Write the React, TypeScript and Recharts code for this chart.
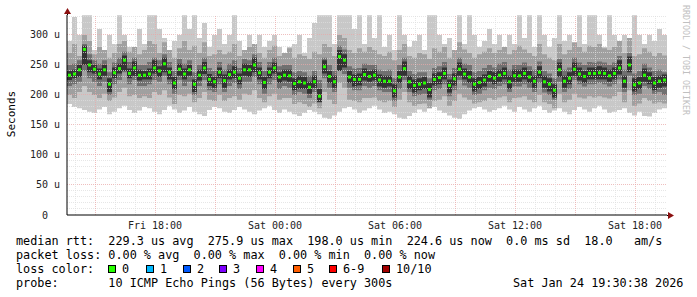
import React from "react";
import { ComposedChart, Area, Line, XAxis, YAxis, ReferenceLine } from "recharts";

// time axis in hours counted from Fri 00:00, one column every 15 minutes
const START_HOUR = 13.6;
const END_HOUR = 43.6;
const STEP_HOURS = 0.25;

// median rtt per column (microseconds)
const median = [
  233, 235, 242, 276, 250, 243, 235, 242, 218, 237, 244, 258, 236, 245, 233, 233, 235, 245, 240, 252, 238, 220, 243, 235, 242, 218, 233, 245, 226, 222,
  238, 224, 234, 238, 228, 242, 242, 250, 237, 221, 238, 245, 230, 233, 232, 219, 222, 220, 213, 222, 198, 247, 231, 222, 264, 258, 230, 226, 226, 234,
  231, 233, 225, 223, 223, 207, 230, 244, 222, 216, 218, 220, 209, 226, 229, 236, 216, 227, 243, 235, 230, 218, 221, 225, 231, 228, 233, 236, 222, 232,
  232, 236, 230, 223, 238, 222, 218, 208, 242, 223, 228, 243, 235, 231, 236, 236, 237, 236, 232, 236, 245, 223, 250, 217, 220, 233, 228, 220, 223, 225,
];

// outer smoke (lowest / highest ping)
const lightLo = [
  185, 180, 178, 175, 172, 170, 176, 180, 168, 172, 178, 182, 175, 170, 174, 180, 178, 172, 168, 175, 182, 176, 170, 174, 180, 172, 168, 165, 175, 180,
  178, 172, 170, 175, 180, 176, 172, 168, 174, 178, 182, 175, 170, 176, 172, 168, 165, 170, 175, 172, 168, 162, 160, 166, 172, 178, 180, 176, 170, 174,
  178, 182, 176, 170, 172, 168, 162, 160, 165, 170, 176, 172, 178, 180, 174, 170, 166, 162, 160, 168, 174, 178, 180, 176, 172, 175, 178, 182, 176, 172,
  180, 176, 172, 178, 182, 175, 170, 174, 178, 172, 168, 175, 180, 176, 172, 178, 182, 176, 170, 172, 175, 178, 170, 166, 172, 165, 164, 170, 176, 178,
];
const lightHi = [
  290, 330, 300, 333, 333, 275, 310, 270, 300, 285, 333, 300, 280, 270, 310, 285, 333, 333, 310, 295, 270, 290, 300, 333, 310, 333, 295, 320, 280, 300,
  310, 285, 300, 333, 290, 275, 300, 285, 300, 280, 290, 300, 280, 270, 280, 285, 300, 270, 295, 320, 333, 333, 333, 285, 333, 333, 333, 310, 333, 285,
  333, 295, 333, 280, 300, 275, 333, 300, 280, 290, 300, 275, 333, 333, 300, 285, 295, 275, 333, 285, 333, 300, 280, 290, 310, 285, 300, 275, 300, 285,
  333, 295, 333, 280, 333, 300, 280, 295, 333, 290, 300, 280, 333, 285, 333, 333, 300, 280, 333, 300, 285, 300, 275, 333, 300, 285, 300, 290, 310, 300,
];

// middle smoke
const midLo = [
  200, 195, 205, 215, 205, 200, 195, 202, 190, 196, 205, 212, 198, 200, 195, 198, 195, 205, 200, 208, 196, 185, 200, 198, 202, 188, 195, 205, 192, 190,
  200, 190, 195, 198, 192, 202, 200, 208, 195, 188, 198, 202, 192, 195, 195, 185, 188, 185, 180, 186, 178, 205, 192, 185, 220, 212, 192, 190, 188, 195,
  195, 196, 190, 188, 190, 180, 192, 205, 188, 182, 185, 186, 178, 190, 192, 198, 182, 190, 202, 196, 192, 186, 188, 190, 195, 192, 196, 198, 188, 195,
  196, 198, 192, 188, 200, 188, 185, 178, 202, 188, 192, 202, 196, 194, 198, 196, 198, 196, 194, 198, 205, 188, 208, 182, 186, 195, 190, 186, 188, 186,
];
const midHi = [
  270, 285, 265, 300, 290, 268, 280, 275, 262, 270, 285, 290, 272, 280, 268, 275, 290, 285, 270, 288, 275, 262, 278, 290, 275, 282, 270, 288, 265, 268,
  275, 268, 272, 285, 265, 275, 280, 285, 270, 262, 275, 282, 265, 270, 278, 262, 268, 265, 260, 272, 268, 285, 280, 265, 300, 295, 275, 270, 278, 272,
  280, 275, 268, 265, 272, 258, 275, 285, 265, 262, 270, 268, 260, 278, 272, 280, 262, 275, 288, 276, 270, 262, 268, 272, 278, 270, 275, 280, 268, 275,
  282, 276, 270, 265, 285, 268, 262, 258, 285, 268, 275, 288, 280, 272, 282, 280, 285, 278, 275, 280, 290, 270, 295, 265, 268, 278, 272, 265, 270, 266,
];

// inner smoke
const darkLo = [
  215, 218, 222, 240, 228, 222, 215, 222, 200, 218, 225, 238, 218, 225, 215, 215, 218, 225, 222, 232, 218, 202, 225, 215, 222, 200, 215, 225, 208, 205,
  218, 205, 215, 220, 210, 222, 222, 230, 218, 202, 218, 225, 210, 215, 212, 200, 205, 202, 195, 205, 190, 228, 212, 205, 240, 235, 212, 208, 208, 215,
  212, 215, 208, 205, 205, 190, 210, 225, 205, 198, 200, 202, 192, 208, 210, 218, 198, 208, 225, 216, 212, 200, 202, 208, 212, 210, 215, 218, 205, 214,
  214, 218, 212, 205, 220, 204, 200, 192, 222, 205, 210, 225, 218, 214, 218, 218, 220, 218, 214, 218, 226, 205, 232, 200, 202, 215, 210, 202, 205, 200,
];
const darkHi = [
  250, 252, 258, 285, 268, 258, 252, 258, 238, 254, 262, 272, 255, 262, 250, 250, 255, 262, 258, 268, 255, 240, 260, 252, 258, 238, 250, 262, 245, 240,
  255, 242, 252, 258, 245, 260, 258, 268, 255, 240, 255, 262, 248, 250, 250, 238, 240, 238, 232, 240, 225, 262, 250, 240, 282, 276, 248, 244, 245, 252,
  250, 250, 242, 240, 242, 228, 250, 262, 240, 235, 238, 238, 228, 245, 248, 255, 235, 245, 262, 252, 250, 238, 240, 245, 250, 246, 252, 255, 242, 250,
  250, 254, 248, 242, 256, 240, 236, 228, 260, 242, 246, 262, 254, 250, 255, 254, 256, 254, 250, 254, 265, 242, 270, 236, 240, 252, 246, 240, 242, 238,
];

// core smoke around the median
const coreLo = [
  225, 228, 230, 250, 238, 236, 226, 232, 205, 228, 236, 240, 228, 232, 224, 226, 226, 236, 230, 238, 226, 210, 232, 226, 232, 205, 224, 235, 215, 212,
  228, 212, 226, 228, 218, 232, 230, 238, 226, 210, 228, 236, 220, 224, 222, 208, 210, 210, 202, 212, 188, 236, 220, 212, 240, 246, 220, 214, 216, 224,
  222, 224, 214, 212, 214, 196, 220, 232, 210, 204, 208, 210, 196, 216, 218, 226, 204, 216, 232, 226, 220, 206, 210, 214, 222, 218, 222, 226, 210, 222,
  222, 226, 220, 212, 228, 212, 206, 196, 230, 212, 218, 232, 224, 220, 226, 226, 226, 226, 222, 226, 234, 212, 238, 206, 210, 222, 218, 208, 212, 214,
];
const coreHi = [
  240, 242, 250, 282, 258, 250, 244, 250, 228, 246, 252, 266, 244, 256, 242, 240, 244, 258, 248, 262, 246, 230, 252, 244, 250, 226, 242, 255, 235, 230,
  246, 234, 242, 248, 236, 252, 250, 262, 246, 230, 246, 254, 238, 242, 242, 228, 232, 230, 222, 232, 210, 258, 240, 232, 275, 268, 240, 234, 236, 244,
  240, 242, 234, 232, 232, 218, 240, 256, 232, 226, 228, 230, 220, 236, 238, 246, 226, 236, 254, 244, 240, 228, 230, 234, 240, 238, 242, 246, 232, 242,
  242, 246, 240, 232, 248, 232, 228, 218, 254, 232, 238, 254, 246, 240, 246, 246, 248, 246, 242, 246, 258, 232, 264, 228, 230, 244, 238, 230, 232, 234,
];

const xTicks = [18, 24, 30, 36, 42];
const xTickLabels = ["Fri 18:00", "Sat 00:00", "Sat 06:00", "Sat 12:00", "Sat 18:00"];
const yTicks = [0, 50, 100, 150, 200, 250, 300];
const yTickLabels = ["0  ", "50 u", "100 u", "150 u", "200 u", "250 u", "300 u"];

const lossLabels = ["0", "1", "2", "3", "4", "5", "6-9", "10/10"];
const lossColors = ["#26ff00", "#00b8ff", "#0059ff", "#7e00ff", "#ff00ff", "#ff5e00", "#ff0000", "#a10000"];
const lossBoxX = [108, 146, 183, 219, 256, 293, 329, 382];

const statsLine = "median rtt:  229.3 us avg  275.9 us max  198.0 us min  224.6 us now  0.0 ms sd  18.0   am/s";
const lossLine = "packet loss: 0.00 % avg  0.00 % max  0.00 % min  0.00 % now";
const probeLine = "probe:       10 ICMP Echo Pings (56 Bytes) every 300s";
const dateLine = "Sat Jan 24 19:30:38 2026";

const data: any[] = median.map((m, i) => ({
  t: START_HOUR + i * STEP_HOURS,
  light: [lightLo[i], lightHi[i]],
  mid: [midLo[i], midHi[i]],
  dark: [darkLo[i], darkHi[i]],
  core: [coreLo[i], coreHi[i]],
  median: m,
}));
data.push({ ...data[data.length - 1], t: END_HOUR, median: null });

const Y_MAX = 333.33;
const MONO = "'DejaVu Sans Mono', monospace";
const PRE = { whiteSpace: "pre" } as React.CSSProperties;

const minorY: number[] = [];
for (let v = 10; v < Y_MAX; v += 10) minorY.push(v);
const hourLines: number[] = [];
for (let h = 14; h < END_HOUR; h++) hourLines.push(h);

const MedianDot = (props: any) => {
  const { cx, cy, payload, index } = props;
  if (cx == null || cy == null || payload.median == null) return <g key={index} />;
  return <rect key={index} x={cx + 1} y={cy - 1.5} width={3} height={3} fill="#26ff00" />;
};

const YTick = (props: any) => {
  const { x, y, payload, index } = props;
  return (
    <text x={x - 7} y={y + 3.5} textAnchor="end" fontFamily={MONO} fontSize={10} fill="#222" xmlSpace="preserve" style={PRE}>
      {yTickLabels[index] ?? String(payload.value)}
    </text>
  );
};

const XTick = (props: any) => {
  const { x, y, index } = props;
  return (
    <text x={x} y={y + 14} textAnchor="middle" fontFamily={MONO} fontSize={10} fill="#222">
      {xTickLabels[index]}
    </text>
  );
};

const LegendText = ({ x, y, children }: { x: number; y: number; children: React.ReactNode }) => (
  <text x={x} y={y} fontFamily={MONO} fontSize={11.8} fill="#000" xmlSpace="preserve" style={PRE}>
    {children}
  </text>
);

export default function App() {
  return (
    <div style={{ position: "absolute", left: 0, top: 0, width: 697, height: 297, background: "#fff" }}>
      <ComposedChart width={697} height={297} data={data} margin={{ top: 15, right: 30, left: 0, bottom: 62 }}>
        <XAxis
          type="number"
          dataKey="t"
          domain={[START_HOUR, END_HOUR]}
          ticks={xTicks}
          tick={<XTick />}
          tickLine={false}
          tickSize={0}
          tickMargin={0}
          height={20}
          allowDataOverflow
          axisLine={{ stroke: "#000" }}
        />
        <YAxis
          domain={[0, Y_MAX]}
          ticks={yTicks}
          tick={<YTick />}
          tickLine={false}
          tickSize={0}
          tickMargin={0}
          width={67}
          allowDataOverflow
          axisLine={{ stroke: "#000" }}
        />
        <Area type="stepAfter" dataKey="light" stroke="none" fill="#c8c8c8" fillOpacity={1} isAnimationActive={false} />
        <Area type="stepAfter" dataKey="mid" stroke="none" fill="#a0a0a0" fillOpacity={1} isAnimationActive={false} />
        <Area type="stepAfter" dataKey="dark" stroke="none" fill="#707070" fillOpacity={1} isAnimationActive={false} />
        <Area type="stepAfter" dataKey="core" stroke="none" fill="#333333" fillOpacity={1} isAnimationActive={false} />
        {minorY.map((v) => (
          <ReferenceLine
            key={`y${v}`}
            y={v}
            stroke={v % 50 === 0 ? "#eaa8a8" : "#dedede"}
            strokeOpacity={0.75}
            strokeDasharray="1 1"
            shapeRendering="crispEdges"
          />
        ))}
        {hourLines.map((h) => (
          <ReferenceLine
            key={`x${h}`}
            x={h}
            stroke={h % 3 === 0 ? "#eaa8a8" : "#dedede"}
            strokeOpacity={0.75}
            strokeDasharray="1 1"
            shapeRendering="crispEdges"
          />
        ))}
        <Line dataKey="median" stroke="none" dot={<MedianDot />} activeDot={false} isAnimationActive={false} />
      </ComposedChart>
      <svg width={697} height={297} style={{ position: "absolute", left: 0, top: 0, pointerEvents: "none" }}>
        <line x1={67.5} y1={11} x2={67.5} y2={15} stroke="#000" />
        <polygon points="64,14 71,14 67.5,8" fill="#8b1010" />
        <line x1={667} y1={215.5} x2={669} y2={215.5} stroke="#000" />
        <polygon points="668,212 668,219 674,215.5" fill="#8b1010" />
        <text transform="translate(15,114) rotate(-90)" textAnchor="middle" fontFamily={MONO} fontSize={11} fill="#000">
          Seconds
        </text>
        <text transform="translate(683,5) rotate(90)" fontFamily={MONO} fontSize={8.3} fill="#c0c0c0">
          RRDTOOL / TOBI OETIKER
        </text>
        <LegendText x={16} y={245}>{statsLine}</LegendText>
        <LegendText x={16} y={259}>{lossLine}</LegendText>
        <LegendText x={16} y={273}>loss color:</LegendText>
        {lossLabels.map((l, i) => (
          <g key={l}>
            <rect x={lossBoxX[i] + 0.5} y={265.5} width={7} height={7} fill={lossColors[i]} stroke="#000" />
            <LegendText x={lossBoxX[i] + 14} y={273}>{l}</LegendText>
          </g>
        ))}
        <LegendText x={16} y={287}>{probeLine}</LegendText>
        <LegendText x={513} y={287}>{dateLine}</LegendText>
      </svg>
    </div>
  );
}
